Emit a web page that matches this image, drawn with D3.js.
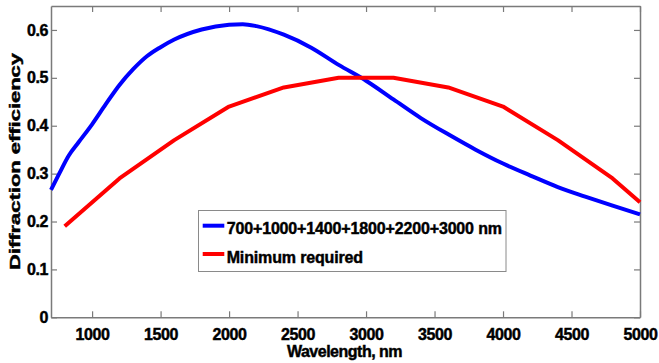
<!DOCTYPE html>
<html>
<head>
<meta charset="utf-8">
<script src="https://cdn.jsdelivr.net/npm/d3@7"></script>
<style>
  html, body { margin: 0; padding: 0; background: #fff; }
  svg { display: block; }
  text { font-family: "Liberation Sans", Arial, sans-serif; font-weight: bold; fill: #000; stroke: #000; stroke-width: 0.45px; }
</style>
</head>
<body>
<svg id="chart" width="659" height="363"></svg>
<script>
// ---- data ----
const blueWavelengths = [700, 760, 830, 900, 1000, 1100, 1200, 1300, 1400, 1500, 1600, 1800, 2000, 2100, 2200, 2400, 2600, 2800, 3000, 3200, 3400, 3600, 3800, 4000, 4200, 4400, 4600, 4800, 5000];
const blueEfficiency  = [0.266, 0.300, 0.338, 0.365, 0.403, 0.445, 0.485, 0.518, 0.545, 0.564, 0.580, 0.601, 0.611, 0.612, 0.608, 0.590, 0.563, 0.527, 0.494, 0.455, 0.416, 0.382, 0.350, 0.321, 0.296, 0.272, 0.252, 0.233, 0.215];
const redWavelengths  = [800, 1200, 1600, 2000, 2400, 2800, 3200, 3600, 4000, 4400, 4800, 5000];
const redEfficiency   = [0.19, 0.29, 0.37, 0.44, 0.48, 0.50, 0.50, 0.48, 0.44, 0.37, 0.29, 0.24];
const seriesNames = ["700+1000+1400+1800+2200+3000 nm", "Minimum required"];
const seriesColors = ["#0000ff", "#ff0000"];
const xTicks = [1000, 1500, 2000, 2500, 3000, 3500, 4000, 4500, 5000];
const yTicks = [0, 0.1, 0.2, 0.3, 0.4, 0.5, 0.6];
const xTitle = "Wavelength, nm";
const yTitle = "Diffraction efficiency";

// ---- layout ----
const W = 659, H = 363;
const m = { left: 51, right: 19, top: 6, bottom: 45.7 };
const svg = d3.select("#chart");
const x = d3.scaleLinear().domain([700, 5000]).range([m.left, W - m.right]);
const y = d3.scaleLinear().domain([0, 0.65]).range([H - m.bottom, m.top]);
const axisColor = "#7a7a7a";
const tickLen = 6;

const gx = svg.append("g").attr("transform", `translate(0,${y(0)})`)
  .call(d3.axisBottom(x).tickValues(xTicks).tickSizeInner(-tickLen).tickSizeOuter(0).tickPadding(11).tickFormat(d3.format("d")));
const gxTop = svg.append("g").attr("transform", `translate(0,${y(0.65)})`)
  .call(d3.axisTop(x).tickValues(xTicks).tickSizeInner(-tickLen).tickSizeOuter(0).tickFormat(""));
const gy = svg.append("g").attr("transform", `translate(${x(700)},0)`)
  .call(d3.axisLeft(y).tickValues(yTicks).tickSizeInner(-tickLen).tickSizeOuter(0).tickPadding(3).tickFormat(d => d === 0 ? "0" : d3.format(".1f")(d)));
const gyR = svg.append("g").attr("transform", `translate(${x(5000)},0)`)
  .call(d3.axisRight(y).tickValues(yTicks).tickSizeInner(-tickLen).tickSizeOuter(0).tickFormat(""));

[gx, gxTop, gy, gyR].forEach(g => {
  g.select(".domain").attr("stroke", axisColor).attr("stroke-width", 1.5);
  g.selectAll(".tick line").attr("stroke", axisColor).attr("stroke-width", 1.2);
  g.selectAll(".tick text").attr("font-family", "'Liberation Sans', Arial, sans-serif")
    .attr("font-weight", "bold").attr("font-size", 16).attr("fill", "#000").attr("letter-spacing", "-0.4px");
});
gx.selectAll(".tick text").attr("dy", "0.71em");

// curves
const blueData = blueWavelengths.map((w, i) => [w, blueEfficiency[i]]);
const redData = redWavelengths.map((w, i) => [w, redEfficiency[i]]);
svg.append("path").datum(blueData)
  .attr("d", d3.line().x(d => x(d[0])).y(d => y(d[1])).curve(d3.curveMonotoneX))
  .attr("fill", "none").attr("stroke", seriesColors[0]).attr("stroke-width", 4).attr("stroke-linejoin", "round");
svg.append("path").datum(redData)
  .attr("d", d3.line().x(d => x(d[0])).y(d => y(d[1])))
  .attr("fill", "none").attr("stroke", seriesColors[1]).attr("stroke-width", 4).attr("stroke-linejoin", "round");

// axis titles
svg.append("text").attr("x", 344.5).attr("y", 357).attr("text-anchor", "middle")
  .attr("font-size", 16).attr("letter-spacing", "-0.5px").text(xTitle);
svg.append("text").attr("transform", "translate(20,161.5) rotate(-90)").attr("text-anchor", "middle")
  .attr("font-size", 15).attr("textLength", 217).attr("lengthAdjust", "spacingAndGlyphs").text(yTitle);

// legend
const lg = svg.append("g");
lg.append("rect").attr("x", 198.5).attr("y", 210.5).attr("width", 307.5).attr("height", 61)
  .attr("fill", "#fff").attr("stroke", "#8a8a8a").attr("stroke-width", 1);
const legendRows = [225.7, 254];
seriesNames.forEach((name, i) => {
  lg.append("line").attr("x1", 202.7).attr("x2", 224.3).attr("y1", legendRows[i]).attr("y2", legendRows[i])
    .attr("stroke", seriesColors[i]).attr("stroke-width", 4);
  lg.append("text").attr("x", 226.7).attr("y", legendRows[i] + 8.5).attr("font-size", 16)
    .attr("letter-spacing", "-0.15px").text(name);
});
</script>
</body>
</html>
